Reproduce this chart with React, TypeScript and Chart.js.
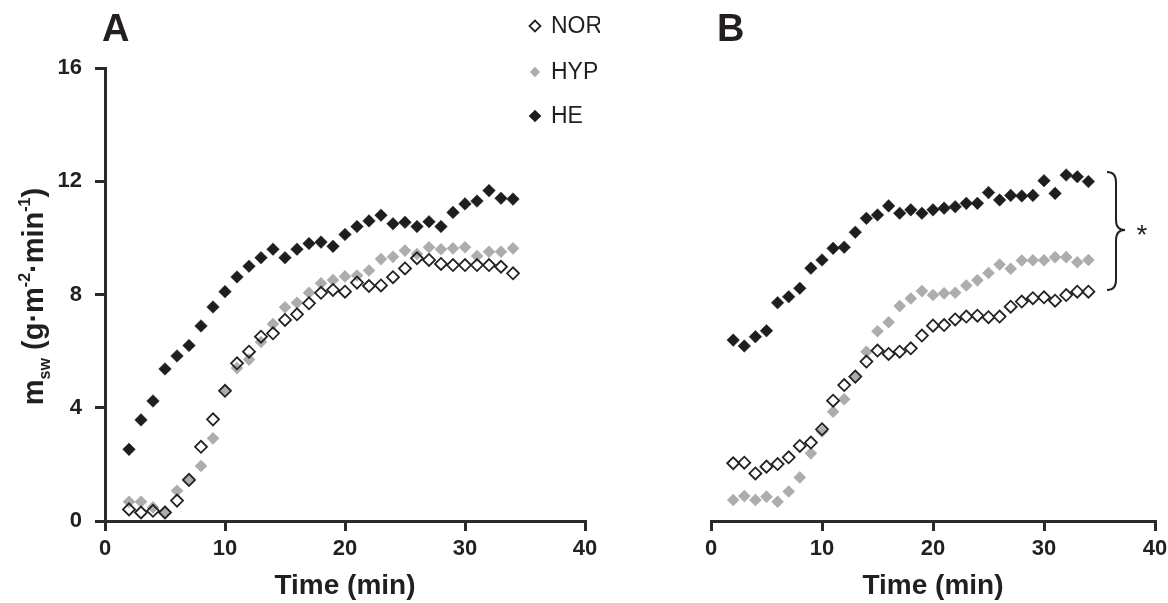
import React, { useEffect, useRef } from 'react';
import { Chart, registerables } from 'chart.js';

Chart.register(...registerables);

// ---------- data ----------
const TIME = [2, 3, 4, 5, 6, 7, 8, 9, 10, 11, 12, 13, 14, 15, 16, 17, 18, 19, 20, 21, 22, 23, 24, 25, 26, 27, 28, 29, 30, 31, 32, 33, 34];

const A_NOR = [0.41, 0.3, 0.36, 0.3, 0.72, 1.45, 2.62, 3.59, 4.6, 5.57, 5.98, 6.51, 6.63, 7.1, 7.3, 7.69, 8.06, 8.16, 8.1, 8.42, 8.3, 8.32, 8.61, 8.92, 9.28, 9.22, 9.08, 9.04, 9.04, 9.04, 9.04, 8.98, 8.75];
const A_HYP = [0.68, 0.68, 0.48, 0.33, 1.07, 1.5, 1.94, 2.92, 4.6, 5.4, 5.7, 6.32, 6.96, 7.55, 7.71, 8.06, 8.4, 8.51, 8.64, 8.67, 8.85, 9.25, 9.33, 9.55, 9.43, 9.67, 9.6, 9.63, 9.67, 9.36, 9.51, 9.51, 9.63];
const A_HE = [2.53, 3.57, 4.24, 5.37, 5.83, 6.2, 6.89, 7.56, 8.1, 8.62, 9.0, 9.3, 9.6, 9.3, 9.6, 9.8, 9.85, 9.7, 10.12, 10.4, 10.6, 10.8, 10.5, 10.55, 10.4, 10.57, 10.4, 10.9, 11.2, 11.3, 11.67, 11.4, 11.37];

const B_NOR = [2.04, 2.06, 1.68, 1.92, 2.01, 2.25, 2.65, 2.77, 3.24, 4.25, 4.8, 5.1, 5.63, 6.02, 5.9, 5.98, 6.1, 6.55, 6.9, 6.92, 7.12, 7.22, 7.25, 7.2, 7.22, 7.57, 7.75, 7.87, 7.9, 7.78, 7.98, 8.1, 8.1];
const B_HYP = [0.74, 0.88, 0.74, 0.86, 0.68, 1.04, 1.54, 2.39, 3.16, 3.86, 4.3, 5.1, 5.98, 6.7, 7.02, 7.59, 7.86, 8.12, 7.98, 8.04, 8.06, 8.32, 8.5, 8.76, 9.06, 8.91, 9.2, 9.21, 9.21, 9.32, 9.32, 9.14, 9.22];
const B_HE = [6.39, 6.18, 6.51, 6.72, 7.71, 7.92, 8.22, 8.93, 9.22, 9.63, 9.67, 10.2, 10.69, 10.81, 11.13, 10.87, 10.99, 10.87, 10.99, 11.05, 11.1, 11.22, 11.22, 11.6, 11.34, 11.5, 11.48, 11.5, 12.02, 11.57, 12.22, 12.16, 11.99];

const SERIES = ['NOR', 'HYP', 'HE'];
const X_TICKS = [0, 10, 20, 30, 40];
const Y_TICKS = [0, 4, 8, 12, 16];
const X_TITLE = 'Time (min)';

// ---------- style ----------
const FONT = "'Liberation Sans', Arial, Helvetica, sans-serif";
const INK = '#231f20';
const AXIS = '#2a2a2a';
const GRAY = '#adadad';
const DARK = '#1e1e1e';

function diamond(ctx: CanvasRenderingContext2D, x: number, y: number, r: number, fill: string | null, stroke: string | null, lw: number) {
  ctx.beginPath();
  ctx.moveTo(x - r, y);
  ctx.lineTo(x, y - r);
  ctx.lineTo(x + r, y);
  ctx.lineTo(x, y + r);
  ctx.closePath();
  if (fill) { ctx.fillStyle = fill; ctx.fill(); }
  if (stroke) { ctx.strokeStyle = stroke; ctx.lineWidth = lw; ctx.stroke(); }
}

function datasets(nor: number[], hyp: number[], he: number[]) {
  const pts = (arr: number[]) => TIME.map((t, i) => ({ x: t, y: arr[i] }));
  return [
    { label: SERIES[0], data: pts(nor), showLine: false, pointStyle: 'rectRot', pointRadius: 6, pointBorderWidth: 1.8, pointBackgroundColor: 'rgba(255,255,255,0)', pointBorderColor: '#222222' },
    { label: SERIES[1], data: pts(hyp), showLine: false, pointStyle: 'rectRot', pointRadius: 6.3, pointBorderWidth: 0, pointBackgroundColor: GRAY, pointBorderColor: GRAY },
    { label: SERIES[2], data: pts(he), showLine: false, pointStyle: 'rectRot', pointRadius: 6.3, pointBorderWidth: 0.5, pointBackgroundColor: DARK, pointBorderColor: DARK },
  ];
}

function xScale() {
  return {
    type: 'linear',
    min: 0,
    max: 40,
    afterBuildTicks: (s: any) => { s.ticks = X_TICKS.map((v) => ({ value: v })); },
    ticks: { color: INK, font: { family: FONT, size: 22, weight: 'bold' }, padding: 5, maxRotation: 0 },
    grid: { display: true, drawOnChartArea: false, drawTicks: true, tickLength: 10, color: AXIS, lineWidth: 3 },
    border: { display: true, color: AXIS, width: 3 },
    title: { display: true, text: X_TITLE, color: INK, font: { family: FONT, size: 28, weight: 'bold' }, padding: 0 },
    afterFit: (s: any) => { s.height = 82; s.paddingLeft = 0; s.paddingRight = 0; },
  };
}

function yScale(show: boolean) {
  return {
    type: 'linear',
    display: show,
    min: 0,
    max: 16,
    afterBuildTicks: (s: any) => { s.ticks = Y_TICKS.map((v) => ({ value: v })); },
    ticks: { color: INK, font: { family: FONT, size: 22, weight: 'bold' }, padding: 13 },
    grid: { display: true, drawOnChartArea: false, drawTicks: true, tickLength: 10, color: AXIS, lineWidth: 3 },
    border: { display: true, color: AXIS, width: 3 },
    afterFit: (s: any) => { s.width = show ? 105 : 0; s.paddingTop = 0; s.paddingBottom = 0; },
  };
}

const panelAPlugin = {
  id: 'panelA',
  afterDraw(chart: any) {
    const ctx: CanvasRenderingContext2D = chart.ctx;
    const area = chart.chartArea;
    ctx.save();
    // panel letter
    ctx.fillStyle = INK;
    ctx.font = `bold 38px ${FONT}`;
    ctx.textBaseline = 'alphabetic';
    ctx.textAlign = 'left';
    ctx.fillText('A', 102, 41);

    // y axis title with sub/superscripts
    const big = `bold 29px ${FONT}`;
    const small = `bold 16px ${FONT}`;
    const segs = [
      { t: 'm', f: big, dy: 0 },
      { t: 'sw', f: small, dy: 7 },
      { t: ' (g\u00b7m', f: big, dy: 0 },
      { t: '-2', f: small, dy: -13 },
      { t: '\u00b7min', f: big, dy: 0 },
      { t: '-1', f: small, dy: -13 },
      { t: ')', f: big, dy: 0 },
    ];
    const cy = (area.top + area.bottom) / 2 + 2;
    ctx.translate(43, cy);
    ctx.rotate(-Math.PI / 2);
    let total = 0;
    const widths: number[] = [];
    for (const s of segs) { ctx.font = s.f; const w = ctx.measureText(s.t).width; widths.push(w); total += w; }
    let x = -total / 2;
    segs.forEach((s, i) => { ctx.font = s.f; ctx.fillText(s.t, x, s.dy); x += widths[i]; });
    ctx.restore();

    // legend
    ctx.save();
    const rows = [26, 72, 116];
    diamond(ctx, 535, rows[0], 5.5, '#ffffff', '#222222', 1.8);
    diamond(ctx, 535, rows[1], 5.2, GRAY, null, 0);
    diamond(ctx, 535, rows[2], 6.3, DARK, null, 0);
    ctx.fillStyle = INK;
    ctx.font = `23px ${FONT}`;
    ctx.textBaseline = 'middle';
    ctx.textAlign = 'left';
    SERIES.forEach((s, i) => ctx.fillText(s, 551, rows[i] + 1));
    ctx.restore();
  },
};

const panelBPlugin = {
  id: 'panelB',
  afterDraw(chart: any) {
    const ctx: CanvasRenderingContext2D = chart.ctx;
    ctx.save();
    ctx.fillStyle = INK;
    ctx.font = `bold 38px ${FONT}`;
    ctx.textBaseline = 'alphabetic';
    ctx.textAlign = 'left';
    ctx.fillText('B', 117, 41);

    // brace
    const x0 = 507, xm = 516, xt = 525;
    const top = 172, mid = 230, bot = 290;
    ctx.strokeStyle = '#222222';
    ctx.lineWidth = 2;
    ctx.beginPath();
    ctx.moveTo(x0, top);
    ctx.quadraticCurveTo(xm, top, xm, top + 10);
    ctx.lineTo(xm, mid - 10);
    ctx.quadraticCurveTo(xm, mid, xt, mid);
    ctx.quadraticCurveTo(xm, mid, xm, mid + 10);
    ctx.lineTo(xm, bot - 10);
    ctx.quadraticCurveTo(xm, bot, x0, bot);
    ctx.stroke();

    ctx.font = `28px ${FONT}`;
    ctx.textAlign = 'center';
    ctx.textBaseline = 'alphabetic';
    ctx.fillText('*', 542, 244);
    ctx.restore();
  },
};

export default function App() {
  const refA = useRef<HTMLCanvasElement>(null);
  const refB = useRef<HTMLCanvasElement>(null);

  useEffect(() => {
    Chart.defaults.font.family = FONT;
    const common = {
      animation: false,
      responsive: false,
      maintainAspectRatio: false,
      events: [],
      plugins: { legend: { display: false }, tooltip: { enabled: false }, title: { display: false } },
    };
    const a = new Chart(refA.current as HTMLCanvasElement, {
      type: 'scatter',
      data: { datasets: datasets(A_NOR, A_HYP, A_HE) as any },
      options: {
        ...common,
        layout: { padding: { left: 0, right: 15, top: 68, bottom: 0 } },
        scales: { x: xScale() as any, y: yScale(true) as any },
      } as any,
      plugins: [panelAPlugin],
    });
    const b = new Chart(refB.current as HTMLCanvasElement, {
      type: 'scatter',
      data: { datasets: datasets(B_NOR, B_HYP, B_HE) as any },
      options: {
        ...common,
        layout: { padding: { left: 111, right: 13, top: 68, bottom: 0 } },
        scales: { x: xScale() as any, y: yScale(false) as any },
      } as any,
      plugins: [panelBPlugin],
    });
    return () => { a.destroy(); b.destroy(); };
  }, []);

  return (
    <div style={{ position: 'fixed', left: 0, top: 0, width: 1168, height: 603, background: '#ffffff' }}>
      <canvas ref={refA} width={600} height={603} style={{ position: 'absolute', left: 0, top: 0, width: 600, height: 603 }} />
      <canvas ref={refB} width={568} height={603} style={{ position: 'absolute', left: 600, top: 0, width: 568, height: 603 }} />
    </div>
  );
}
